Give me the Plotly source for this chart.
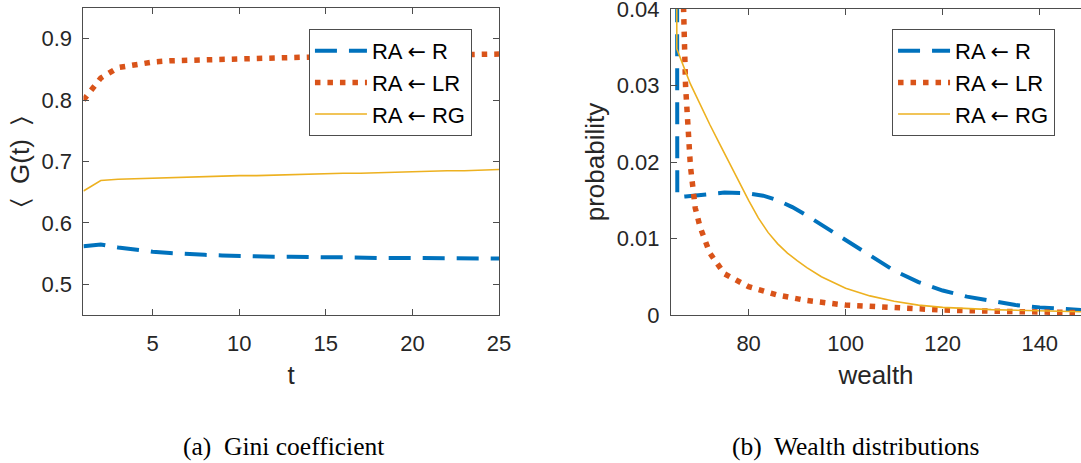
import plotly.graph_objects as go

# ---- data: Gini coefficient vs t ----
t = list(range(1, 26))
gini_R = [0.562, 0.565, 0.560, 0.556, 0.553, 0.551, 0.549, 0.548, 0.547, 0.546,
          0.546, 0.545, 0.545, 0.544, 0.544, 0.544, 0.543, 0.543, 0.543, 0.543,
          0.542, 0.542, 0.542, 0.542, 0.542]
gini_LR = [0.800, 0.836, 0.853, 0.858, 0.862, 0.864, 0.865, 0.866, 0.867, 0.868,
           0.868, 0.869, 0.869, 0.870, 0.870, 0.871, 0.871, 0.872, 0.872, 0.873,
           0.873, 0.874, 0.874, 0.875, 0.875]
gini_RG = [0.652, 0.669, 0.671, 0.672, 0.673, 0.674, 0.675, 0.675, 0.676, 0.677,
           0.677, 0.678, 0.679, 0.679, 0.680, 0.681, 0.681, 0.682, 0.683, 0.683,
           0.684, 0.685, 0.685, 0.686, 0.687]

# ---- data: wealth distributions ----
w_R = [65, 65.3, 67, 70, 75, 80, 83, 86, 89, 92, 95, 98, 100, 105, 110, 115, 120,
       125, 130, 135, 140, 145, 150]
p_R = [0.25, 0.0154, 0.0155, 0.0157, 0.0160, 0.0159, 0.0156, 0.0150, 0.0141,
       0.0130, 0.0118, 0.0106, 0.0097, 0.0077, 0.0058, 0.0043, 0.0032, 0.0024,
       0.0018, 0.0013, 0.0010, 0.0008, 0.0006]
w_LR = [66, 67, 68, 69, 70, 72, 75, 80, 86, 92, 100, 110, 120, 130, 140, 150]
p_LR = [0.055, 0.030, 0.0195, 0.0140, 0.0115, 0.0081, 0.0054, 0.0037, 0.0026,
        0.0019, 0.0013, 0.0009, 0.00065, 0.0005, 0.0004, 0.0003]
w_RG = [65, 65.2, 68, 70, 72, 74, 76, 78, 80, 82, 84, 86, 88, 90, 92, 95, 100,
        105, 110, 115, 120, 130, 140, 150]
p_RG = [0.30, 0.0348, 0.0302, 0.0275, 0.0249, 0.0224, 0.0199, 0.0174, 0.0150,
        0.0127, 0.0108, 0.0093, 0.0081, 0.0071, 0.0062, 0.0050, 0.0035, 0.0025,
        0.0018, 0.0013, 0.0010, 0.0007, 0.0005, 0.0004]

x_ticks_left = [5, 10, 15, 20, 25]
y_ticks_left = [0.5, 0.6, 0.7, 0.8, 0.9]
x_ticks_right = [80, 100, 120, 140]
y_ticks_right = [0, 0.01, 0.02, 0.03, 0.04]
y_ticklabels_right = ["0", "0.01", "0.02", "0.03", "0.04"]

ARROW = "<span style='font-family:DejaVu Sans'>\u2190</span>"
names = [f"RA {ARROW} R", f"RA {ARROW} LR", f"RA {ARROW} RG"]
colors = ["#0072BD", "#D95319", "#EDB120"]
styles = [dict(width=4, dash="22px,12px"), dict(width=5.5, dash="5.5px,7px"),
          dict(width=1.6, dash="solid")]

FONT = "Liberation Sans, Arial, sans-serif"
SERIF = "Liberation Serif, Times New Roman, serif"
TXT = "#262626"
AX = "#4d4d4d"

fig = go.Figure()

left_series = [gini_R, gini_LR, gini_RG]
for i in range(3):
    fig.add_trace(go.Scatter(x=t, y=left_series[i], mode="lines", name=names[i],
                             line=dict(color=colors[i], **styles[i]),
                             xaxis="x", yaxis="y", legend="legend"))

right_w = [w_R, w_LR, w_RG]
right_p = [p_R, p_LR, p_RG]
for i in range(3):
    fig.add_trace(go.Scatter(x=right_w[i], y=right_p[i], mode="lines", name=names[i],
                             line=dict(color=colors[i], **styles[i]),
                             xaxis="x2", yaxis="y2", legend="legend2"))

axis_common = dict(showgrid=False, zeroline=False, showline=True, linecolor=AX, linewidth=1,
                   ticks="inside", ticklen=6, tickcolor=AX, tickwidth=1, automargin=False,
                   ticklabeloverflow="allow",
                   tickfont=dict(family=FONT, size=22, color=TXT))
title_font = dict(family=FONT, size=26, color=TXT)
legend_common = dict(xanchor="left", yanchor="top", bgcolor="white", bordercolor=AX,
                     borderwidth=1, itemwidth=52, tracegroupgap=0,
                     font=dict(family=FONT, size=22, color="black"))

fig.update_layout(
    width=1081, height=463,
    margin=dict(l=0, r=0, t=0, b=0, autoexpand=False),
    paper_bgcolor="white", plot_bgcolor="white",
    font=dict(family=FONT, color=TXT),
    xaxis=dict(domain=[0.0772, 0.4616], range=[1, 25], tickvals=x_ticks_left,
               mirror="ticks", anchor="y", ticklabelstandoff=9,
               title=dict(text="t", font=title_font, standoff=10),
               **axis_common),
    yaxis=dict(domain=[0.3196, 0.9827], range=[0.45, 0.95], tickvals=y_ticks_left,
               mirror="ticks", anchor="x", ticklabelstandoff=6,
               title=dict(text="\u2329  G(t)  \u232a", font=title_font, standoff=4),
               **axis_common),
    xaxis2=dict(domain=[0.6207, 1.0], range=[64, 148.5], tickvals=x_ticks_right,
                mirror="ticks", anchor="y2", ticklabelstandoff=9,
                title=dict(text="wealth", font=title_font, standoff=10),
                **axis_common),
    yaxis2=dict(domain=[0.3196, 0.9806], range=[0, 0.04], tickvals=y_ticks_right,
                ticktext=y_ticklabels_right, anchor="x2", ticklabelstandoff=6,
                title=dict(text="probability", font=title_font, standoff=4),
                **axis_common),
    legend=dict(x=0.2858, y=0.9374, **legend_common),
    legend2=dict(x=0.8252, y=0.9374, **legend_common),
    showlegend=True,
)

fig.add_annotation(text="(a)  Gini coefficient", xref="paper", yref="paper",
                   x=283 / 1081, y=1 - 446 / 463, showarrow=False,
                   xanchor="center", yanchor="middle",
                   font=dict(family=SERIF, size=25.5, color="black"))
fig.add_annotation(text="(b)  Wealth distributions", xref="paper", yref="paper",
                   x=856 / 1081, y=1 - 446 / 463, showarrow=False,
                   xanchor="center", yanchor="middle",
                   font=dict(family=SERIF, size=25.5, color="black"))

fig.write_html("out.html")
